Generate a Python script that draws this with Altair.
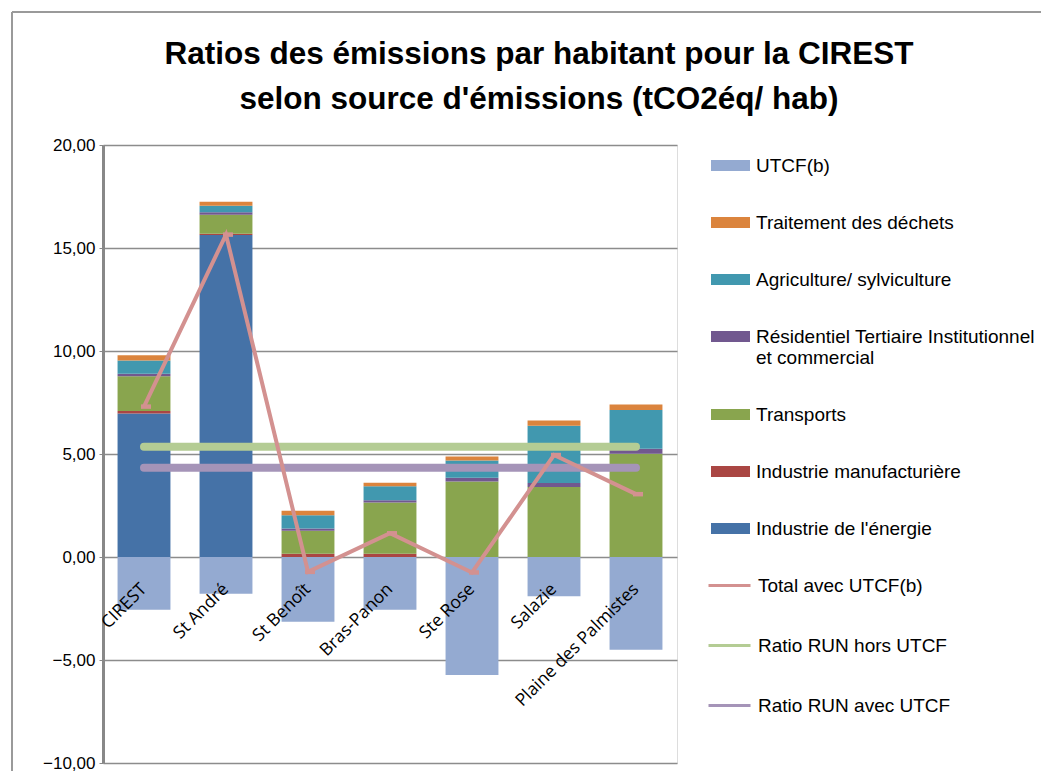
import altair as alt
import pandas as pd

communes = ["CIREST", "St André", "St Benoît", "Bras-Panon", "Ste Rose", "Salazie", "Plaine des Palmistes"]

energie      = [6.96, 15.63, 0.00, 0.00, 0.00, 0.00, 0.00]
manuf        = [0.13, 0.06, 0.16, 0.16, 0.00, 0.00, 0.00]
transports   = [1.68, 0.92, 1.12, 2.48, 3.66, 3.40, 5.01]
residentiel  = [0.12, 0.12, 0.10, 0.12, 0.19, 0.19, 0.24]
agriculture  = [0.65, 0.32, 0.65, 0.68, 0.84, 2.78, 1.89]
dechets      = [0.25, 0.19, 0.21, 0.16, 0.19, 0.26, 0.26]
utcf         = [-2.56, -1.78, -3.14, -2.56, -5.73, -1.91, -4.50]
total_utcf   = [7.30, 15.65, -0.72, 1.15, -0.75, 4.95, 3.05]
ratio_hors   = [5.35, 5.35, 5.35, 5.35, 5.35, 5.35, 5.35]
ratio_avec   = [4.33, 4.33, 4.33, 4.33, 4.33, 4.33, 4.33]

bar_names = ["UTCF(b)", "Traitement des déchets", "Agriculture/ sylviculture",
             "Résidentiel Tertiaire Institutionnel et commercial", "Transports",
             "Industrie manufacturière", "Industrie de l'énergie"]
bar_colors = ["#94AAD1", "#DB843D", "#4198AF", "#71588F", "#89A54E", "#AA4643", "#4572A7"]
line_names = ["Total avec UTCF(b)", "Ratio RUN hors UTCF", "Ratio RUN avec UTCF"]
line_colors = ["#D39190", "#B4CC94", "#A594B8"]

bar_series = [
    ("Industrie de l'énergie", energie, 1),
    ("Industrie manufacturière", manuf, 2),
    ("Transports", transports, 3),
    ("Résidentiel Tertiaire Institutionnel et commercial", residentiel, 4),
    ("Agriculture/ sylviculture", agriculture, 5),
    ("Traitement des déchets", dechets, 6),
    ("UTCF(b)", utcf, 0),
]
rows = []
for name, vals, o in bar_series:
    for c, v in zip(communes, vals):
        rows.append({"commune": c, "source": name, "value": v, "ord": o})
df_bars = pd.DataFrame(rows)

df_total = pd.DataFrame({"commune": communes, "value": total_utcf, "serie": line_names[0]})
df_ratio = pd.concat([
    pd.DataFrame({"commune": communes, "value": ratio_hors, "serie": line_names[1]}),
    pd.DataFrame({"commune": communes, "value": ratio_avec, "serie": line_names[2]}),
])
df_labels = pd.DataFrame({"commune": communes, "value": [0] * len(communes)})

FONT = "Liberation Sans"

x_enc = alt.X("commune:N", sort=communes, axis=None,
              scale=alt.Scale(paddingInner=0.355, paddingOuter=0.1775))
y_axis = alt.Axis(values=[-10, -5, 0, 5, 10, 15, 20],
                  labelExpr="replace(format(datum.value, '.2f'), '.', ',')",
                  title=None, grid=True, gridColor="#8c8c8c", gridWidth=1.6,
                  domainColor="#888888", domainWidth=3, tickColor="#888888",
                  tickSize=4, labelFont=FONT, labelFontSize=17,
                  labelColor="#000000", labelPadding=4)
y_scale = alt.Scale(domain=[-10, 20], nice=False)
y_enc = alt.Y("value:Q", scale=y_scale, axis=y_axis)

bars = alt.Chart(df_bars).mark_bar().encode(
    x=x_enc,
    y=alt.Y("value:Q", stack="zero", scale=y_scale, axis=y_axis),
    fill=alt.Fill("source:N", scale=alt.Scale(domain=bar_names, range=bar_colors),
                  legend=alt.Legend(orient="none", legendX=608, legendY=1, title=None,
                                    padding=0, symbolType="M-1,-0.28L1,-0.28L1,0.28L-1,0.28Z",
                                    symbolSize=1521, symbolStrokeWidth=0,
                                    rowPadding=27, labelOffset=6, labelFont=FONT,
                                    labelFontSize=19, labelColor="#000000", labelLimit=400,
                                    labelExpr="datum.label == 'Résidentiel Tertiaire Institutionnel et commercial' ? ['Résidentiel Tertiaire Institutionnel', 'et commercial'] : datum.label")),
    order=alt.Order("ord:Q"),
)

stroke_enc = alt.Stroke("serie:N", scale=alt.Scale(domain=line_names, range=line_colors),
                        legend=alt.Legend(orient="none", legendX=604, legendY=418, title=None,
                                          padding=0, symbolType="stroke", symbolSize=1764,
                                          symbolStrokeWidth=3, rowPadding=27, labelOffset=6,
                                          labelFont=FONT, labelFontSize=19,
                                          labelColor="#000000", labelLimit=400))

ratios = alt.Chart(df_ratio).mark_line(strokeWidth=8, strokeCap="round").encode(
    x=x_enc, y=y_enc, stroke=stroke_enc)

total_line = alt.Chart(df_total).mark_line(strokeWidth=4).encode(
    x=x_enc, y=y_enc, stroke=stroke_enc)

total_pts = alt.Chart(df_total).mark_point(
    shape="M-0.6,-0.45L1.4,-0.45L1.4,0.45L-0.6,0.45Z", filled=True, size=100, opacity=1,
    color="#D39190").encode(x=x_enc, y=y_enc)

labels = alt.Chart(df_labels).mark_text(
    angle=315, align="right", baseline="middle", dx=-21, dy=21,
    font="Open Sans", fontSize=17.5, color="#000000").encode(
    x=x_enc, y=y_enc, text="commune:N")

frame_df = pd.DataFrame({"a": [0]})
frame_top = alt.Chart(frame_df).mark_rule(color="#9a9a9a", strokeWidth=2).encode(
    x=alt.value(-91), x2=alt.value(960), y=alt.value(-133))
frame_left = alt.Chart(frame_df).mark_rule(color="#9a9a9a", strokeWidth=2).encode(
    x=alt.value(-91), y=alt.value(-133), y2=alt.value(700))

chart = alt.layer(bars, ratios, total_line, total_pts, labels, frame_top, frame_left).properties(
    width=574, height=618,
    title=alt.Title(["Ratios des émissions par habitant pour la CIREST",
                     "selon source d'émissions (tCO2éq/ hab)"],
                    font=FONT, fontSize=31.5, fontWeight="bold",
                    color="#000000", anchor="middle", dx=149, dy=126, offset=22, lineHeight=45),
    autosize=alt.AutoSizeParams(type="none"),
    padding={"left": 95, "top": 137, "right": 364, "bottom": 8},
).configure_view(stroke=None).configure(background="#ffffff")

chart.save("out.html", embed_options={"renderer": "svg", "actions": False})
